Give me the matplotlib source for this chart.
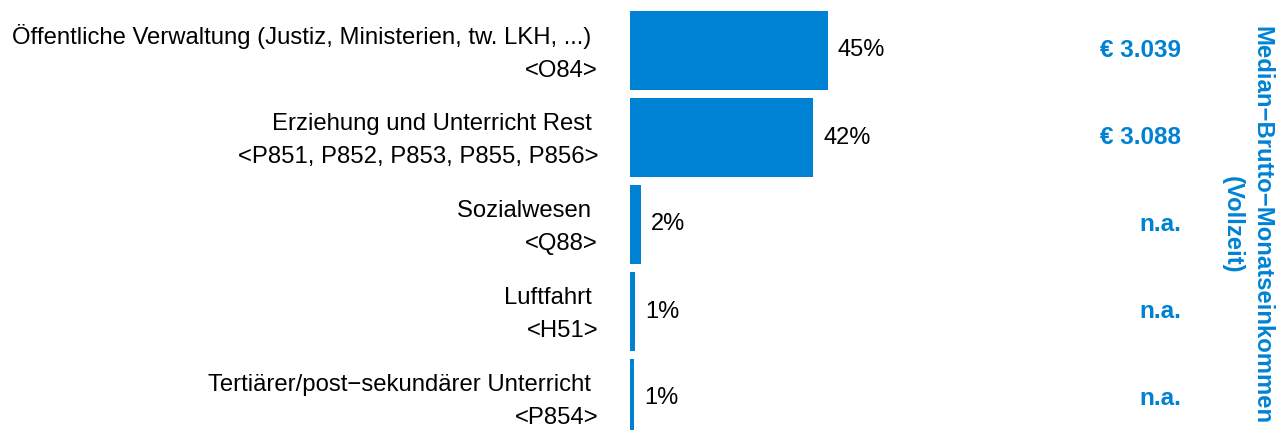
import matplotlib
matplotlib.use("Agg")
import matplotlib.pyplot as plt

plt.rcParams['font.family'] = ['Liberation Sans', 'DejaVu Sans']

# Daten
branchen = [
    "Öffentliche Verwaltung (Justiz, Ministerien, tw. LKH, ...) \n<O84>",
    "Erziehung und Unterricht Rest \n<P851, P852, P853, P855, P856>",
    "Sozialwesen \n<Q88>",
    "Luftfahrt \n<H51>",
    "Tertiärer/post−sekundärer Unterricht \n<P854>",
]
anteil = [45.0, 41.6, 2.5, 1.1, 0.9]
anteil_labels = ["45%", "42%", "2%", "1%", "1%"]
einkommen = ["€ 3.039", "€ 3.088", "n.a.", "n.a.", "n.a."]

blau = '#0082D4'
W, H = 1280, 430
px_per_pct = 4.4

fig = plt.figure(figsize=(W / 100, H / 100), dpi=100)
ax = fig.add_axes([630 / W, -12 / H, 650 / W, 435 / H])
ax.set_xlim(0, 650 / px_per_pct)
ax.set_ylim(len(anteil) - 0.5, -0.5)
ax.axis("off")

pos = list(range(len(anteil)))
ax.barh(pos, anteil, height=0.91, color=blau)

for i, (v, lab) in enumerate(zip(anteil, anteil_labels)):
    ax.text(v + 10 / px_per_pct, i, lab, va='center', ha='left',
            fontsize=17, color='black')

# Beschriftungen links
for i, name in enumerate(branchen):
    ax.text(-32 / px_per_pct, i + 0.03, name, ha='right', va='center',
            fontsize=17.2, color='black', linespacing=1.65,
            multialignment='right')

# Einkommen rechts
for i, e in enumerate(einkommen):
    ax.text(1181 / W, 1 - (50.5 + 87 * i) / H, e, transform=fig.transFigure,
            ha='right', va='center', fontsize=17.5, fontweight='bold', color=blau)

fig.text(1247 / W, 1 - 225 / H, "Median−Brutto−Monatseinkommen\n(Vollzeit)",
         rotation=-90, ha='center', va='center', fontsize=17.2,
         fontweight='bold', color=blau, linespacing=1.35)

fig.savefig("out.png", dpi=100)
